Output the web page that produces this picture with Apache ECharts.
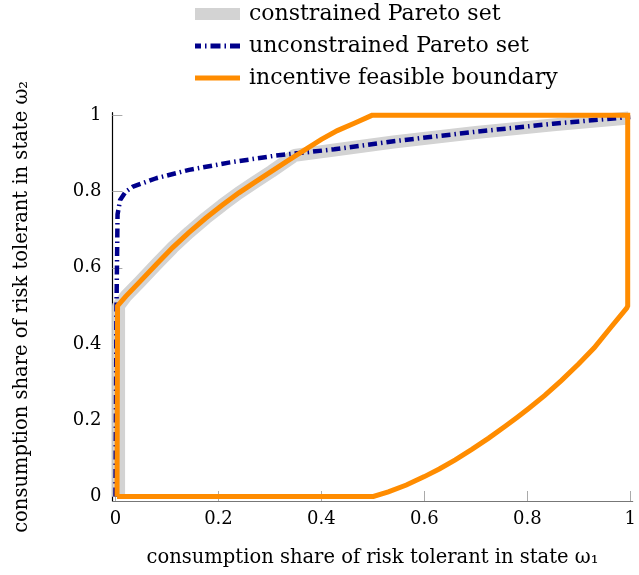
<!DOCTYPE html>
<html>
<head>
<meta charset="utf-8">
<script src="https://cdn.jsdelivr.net/npm/echarts@6/dist/echarts.min.js"></script>
<style>html,body{margin:0;padding:0;background:#fff;}#c{width:639px;height:575px;}</style>
</head>
<body>
<div id="c"></div>
<script>
const seriesNames = ['constrained Pareto set', 'unconstrained Pareto set', 'incentive feasible boundary'];
const xTickValues = [0, 0.2, 0.4, 0.6, 0.8, 1];
const yTickValues = [0, 0.2, 0.4, 0.6, 0.8, 1];
const xTitle = 'consumption share of risk tolerant in state ω₁';
const yTitle = 'consumption share of risk tolerant in state ω₂';

const constrainedX = [0.006, 0.006, 0.02, 0.047, 0.08, 0.111, 0.143, 0.175, 0.207, 0.239, 0.271, 0.303, 0.348, 0.425, 0.54, 0.70, 0.85, 0.997];
const constrainedY = [0, 0.5, 0.525, 0.563, 0.61, 0.653, 0.693, 0.73, 0.764, 0.796, 0.825, 0.853, 0.895, 0.909, 0.93, 0.955, 0.975, 0.993];

const unconstrainedX = [0, 0.002, 0.004, 0.009, 0.02, 0.034, 0.079, 0.143, 0.22, 0.309, 0.425, 0.54, 0.70, 0.85, 1.0];
const unconstrainedY = [0, 0.5, 0.74, 0.778, 0.8, 0.813, 0.835, 0.857, 0.876, 0.894, 0.911, 0.932, 0.957, 0.978, 0.996];

const boundaryX = [0.003, 0.501, 0.53, 0.565, 0.6, 0.629, 0.66, 0.693, 0.725, 0.757, 0.78, 0.802, 0.834, 0.866, 0.9, 0.93, 0.96, 0.993, 0.995, 0.995,
                   0.498, 0.465, 0.431, 0.40, 0.367, 0.335, 0.303, 0.271, 0.239, 0.207, 0.175, 0.143, 0.111, 0.08, 0.047, 0.02, 0.004, 0.003];
const boundaryY = [0, 0, 0.012, 0.03, 0.052, 0.072, 0.096, 0.124, 0.153, 0.184, 0.207, 0.23, 0.265, 0.304, 0.348, 0.39, 0.44, 0.494, 0.5, 1.0,
                   1.0, 0.98, 0.96, 0.937, 0.909, 0.881, 0.853, 0.825, 0.796, 0.764, 0.73, 0.693, 0.653, 0.61, 0.563, 0.525, 0.5, 0];

function pairs(xs, ys) { return xs.map((x, i) => [x, ys[i]]); }

const FONT = 'DejaVu Serif';
const chart = echarts.init(document.getElementById('c'));
chart.setOption({
  animation: false,
  backgroundColor: '#fff',
  textStyle: { fontFamily: FONT, color: '#000' },
  legend: {
    orient: 'vertical',
    left: 190,
    top: -2,
    itemWidth: 45,
    itemHeight: 12,
    itemGap: 10,
    textStyle: { fontFamily: FONT, fontSize: 22, lineHeight: 22, color: '#000', padding: [0, 0, 0, 4] },
    data: [
      { name: seriesNames[0], icon: 'rect', itemStyle: { color: '#d3d3d3' } },
      { name: seriesNames[1], icon: 'path://M0,0h6v5h-6z M10,0h1.5v5h-1.5z M15.5,0h10v5h-10z M29.5,0h1.5v5h-1.5z M35,0h10v5h-10z', itemStyle: { color: '#00008b' } },
      { name: seriesNames[2], icon: 'path://M0,0h45v5h-45z', itemStyle: { color: '#ff8c00' } }
    ]
  },
  grid: { left: 112.4, right: 0, top: 112.7, bottom: 74, containLabel: false },
  xAxis: {
    type: 'value',
    min: -0.006,
    max: 1.0047,
    name: xTitle,
    nameLocation: 'middle',
    nameGap: 47,
    nameTextStyle: { fontFamily: FONT, fontSize: 19.5, color: '#000' },
    axisLine: { show: true, onZero: false, lineStyle: { color: '#777', width: 1.2 } },
    axisTick: { show: true, inside: true, length: 10, customValues: xTickValues, lineStyle: { color: '#aaa', width: 1 } },
    axisLabel: { show: true, margin: 9, customValues: xTickValues, fontFamily: FONT, fontSize: 18, color: '#000' },
    splitLine: { show: false }
  },
  yAxis: {
    type: 'value',
    min: -0.012,
    max: 1.007,
    name: yTitle,
    nameLocation: 'middle',
    nameGap: 80,
    nameTextStyle: { fontFamily: FONT, fontSize: 19.5, color: '#000' },
    axisLine: { show: true, onZero: false, lineStyle: { color: '#000', width: 1.2 } },
    axisTick: { show: true, inside: true, length: 10, customValues: yTickValues, lineStyle: { color: '#aaa', width: 1 } },
    axisLabel: { show: true, margin: 11, customValues: yTickValues, fontFamily: FONT, fontSize: 18, color: '#000' },
    splitLine: { show: false }
  },
  series: [
    {
      name: seriesNames[0], type: 'line', symbol: 'none', z: 1,
      itemStyle: { color: '#d3d3d3' },
      lineStyle: { color: '#d3d3d3', width: 13, join: 'round' },
      data: pairs(constrainedX, constrainedY)
    },
    {
      name: seriesNames[1], type: 'line', symbol: 'none', z: 2,
      itemStyle: { color: '#00008b' },
      lineStyle: { color: '#00008b', width: 4.5, type: [9, 4, 1.5, 4] },
      data: pairs(unconstrainedX, unconstrainedY)
    },
    {
      name: seriesNames[2], type: 'line', symbol: 'none', z: 3,
      itemStyle: { color: '#ff8c00' },
      lineStyle: { color: '#ff8c00', width: 5, join: 'miter' },
      data: pairs(boundaryX, boundaryY)
    }
  ]
});
</script>
</body>
</html>
